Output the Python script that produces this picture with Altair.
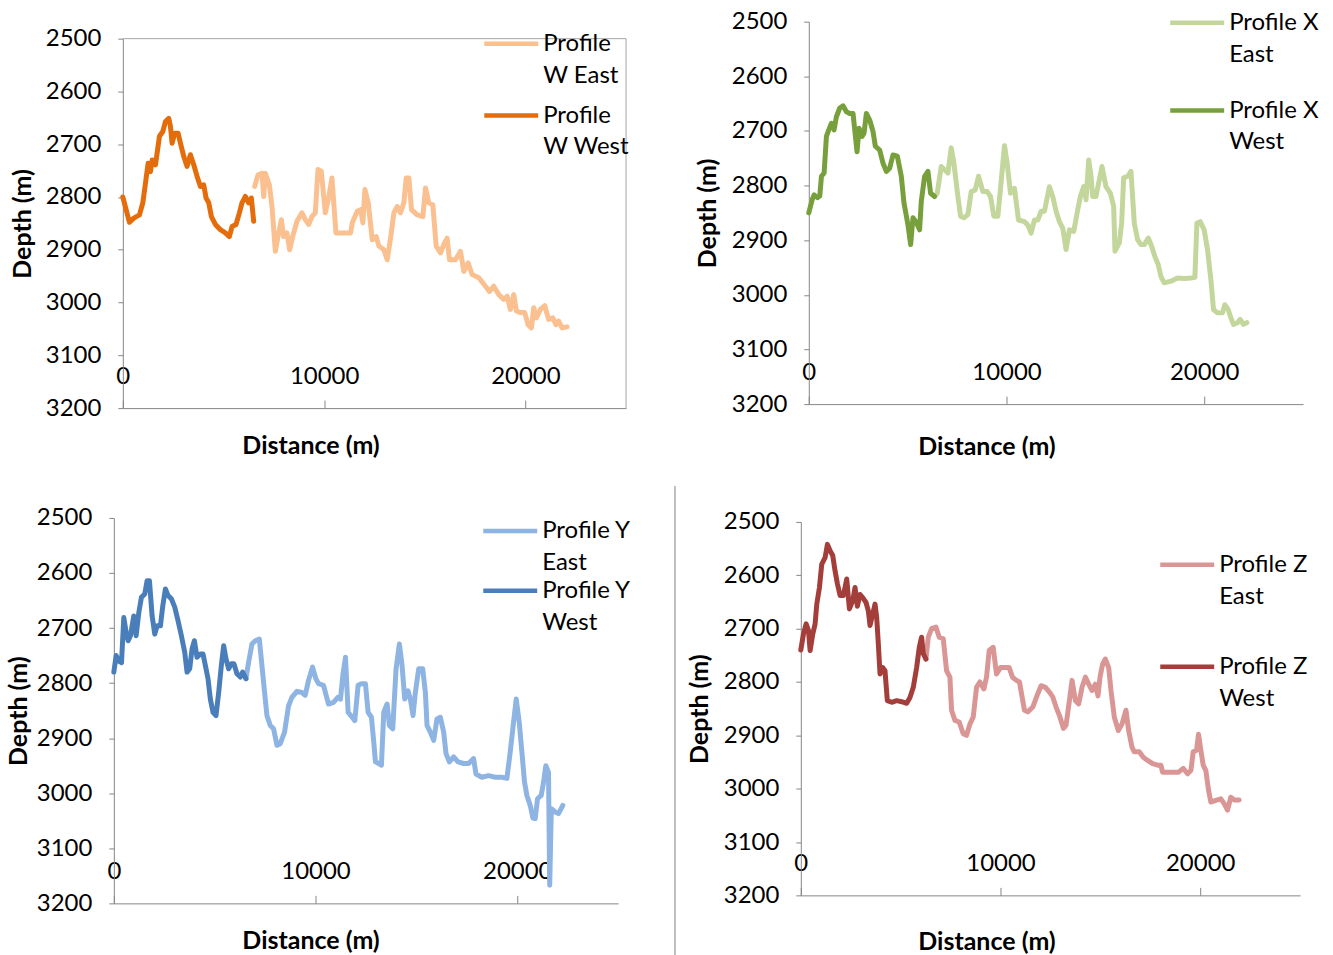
import altair as alt
import pandas as pd

FONT = "Lato"
GRAY = "#868686"

# ---------------- data (distance m, depth m) ----------------
W_WEST = [(0,2800),(165,2824),(330,2848),(545,2840),(827,2834),(993,2811),(1125,2774),(1257,2736),(1373,2752),(1456,2730),(1622,2739),(1820,2685),(1985,2676),(2117,2657),(2283,2651),(2365,2666),(2448,2698),(2580,2679),(2746,2679),(2862,2698),(3027,2723),(3193,2742),(3358,2720),(3524,2739),(3690,2761),(3855,2780),(4020,2777),(4136,2802),(4268,2811),(4400,2837),(4599,2852),(4847,2862),(5095,2868),(5293,2875),(5426,2856),(5624,2852),(5790,2830),(5921,2811),(6087,2799),(6253,2811),(6385,2802),(6501,2846)]
W_EAST = [(6551,2780),(6716,2758),(6914,2755),(6998,2799),(7080,2755),(7279,2777),(7411,2818),(7577,2903),(7708,2875),(7876,2843),(7990,2875),(8155,2868),(8288,2900),(8437,2875),(8652,2846),(8900,2830),(9066,2843),(9231,2852),(9396,2837),(9563,2830),(9694,2748),(9860,2751),(10058,2830),(10223,2802),(10389,2764),(10588,2868),(10886,2868),(11216,2868),(11315,2868),(11398,2849),(11647,2827),(11811,2824),(11927,2849),(12027,2786),(12192,2811),(12390,2881),(12589,2875),(12721,2893),(12969,2900),(13135,2919),(13300,2878),(13466,2830),(13632,2818),(13797,2830),(13962,2811),(14079,2764),(14210,2764),(14342,2824),(14624,2834),(14906,2837),(15037,2783),(15203,2811),(15401,2815),(15567,2893),(15782,2906),(15947,2890),(16113,2878),(16228,2919),(16526,2919),(16774,2903),(16940,2941),(17155,2925),(17355,2947),(17684,2953),(18015,2969),(18213,2979),(18428,2969),(18677,2985),(18925,2994),(19090,2988),(19255,3013),(19421,2985),(19553,3016),(19752,3019),(19966,3019),(20133,3042),(20298,3048),(20414,3010),(20546,3029),(20744,3013),(20959,3006),(21157,3032),(21356,3029),(21522,3042),(21653,3035),(21819,3048),(22068,3046)]

X_WEST = [(0,2850),(168,2826),(269,2817),(438,2822),(556,2819),(640,2783),(775,2777),(892,2710),(1010,2698),(1145,2686),(1279,2698),(1397,2674),(1566,2658),(1734,2654),(1902,2665),(2071,2668),(2239,2668),(2323,2698),(2441,2738),(2542,2695),(2694,2710),(2795,2704),(2912,2668),(3081,2680),(3249,2701),(3367,2728),(3586,2735),(3754,2759),(3923,2774),(4091,2768),(4259,2744),(4478,2746),(4680,2783),(4815,2832),(5016,2872),(5152,2908),(5270,2859),(5438,2867),(5606,2881),(5690,2829),(5859,2783),(6027,2774),(6162,2814),(6364,2820)]
X_EAST = [(6364,2820),(6498,2814),(6700,2765),(6869,2771),(7037,2777),(7205,2731),(7340,2759),(7542,2820),(7677,2856),(7845,2859),(8047,2853),(8215,2811),(8418,2808),(8586,2783),(8805,2811),(9024,2811),(9192,2820),(9360,2856),(9562,2856),(9731,2792),(9899,2727),(10033,2759),(10202,2814),(10404,2805),(10606,2863),(10909,2866),(11077,2872),(11246,2887),(11414,2863),(11582,2863),(11751,2847),(11919,2847),(12172,2802),(12340,2820),(12508,2847),(12677,2866),(12845,2878),(13013,2917),(13182,2881),(13401,2884),(13603,2844),(13737,2820),(13906,2802),(14024,2826),(14158,2753),(14276,2783),(14360,2820),(14529,2820),(14697,2789),(14832,2765),(15034,2802),(15253,2814),(15421,2838),(15488,2920),(15707,2905),(15825,2869),(15926,2786),(16128,2783),(16296,2774),(16465,2869),(16633,2899),(16801,2908),(16970,2908),(17172,2896),(17340,2911),(17508,2930),(17677,2945),(17811,2966),(17980,2978),(18316,2975),(18653,2969),(18990,2970),(19327,2969),(19529,2968),(19630,2869),(19798,2866),(20000,2881),(20168,2917),(20337,2972),(20472,3027),(20673,3033),(20926,3033),(21044,3018),(21212,3027),(21347,3042),(21481,3054),(21684,3051),(21818,3045),(21987,3054),(22155,3051)]

Y_WEST = [(0,2780),(115,2750),(248,2760),(380,2763),(495,2681),(611,2708),(710,2723),(825,2714),(990,2678),(1106,2714),(1238,2672),(1370,2644),(1535,2638),(1650,2614),(1766,2614),(1898,2678),(2030,2711),(2145,2696),(2310,2696),(2426,2660),(2558,2629),(2690,2641),(2855,2647),(3020,2662),(3185,2687),(3350,2714),(3515,2744),(3630,2780),(3762,2774),(3878,2738),(3993,2723),(4125,2753),(4290,2747),(4422,2747),(4538,2768),(4670,2792),(4785,2829),(4917,2853),(5066,2859),(5198,2817),(5330,2768),(5446,2732),(5561,2756),(5693,2774),(5825,2765),(5957,2765),(6106,2783),(6272,2789),(6386,2780),(6551,2792)]
Y_EAST = [(6551,2792),(6683,2762),(6848,2729),(7015,2723),(7213,2720),(7343,2768),(7475,2817),(7591,2859),(7757,2877),(7921,2883),(8086,2913),(8251,2910),(8465,2889),(8663,2841),(8828,2826),(9076,2815),(9323,2817),(9488,2822),(9653,2795),(9851,2771),(10017,2792),(10149,2801),(10396,2804),(10644,2838),(10891,2835),(11106,2826),(11238,2829),(11353,2786),(11485,2753),(11617,2853),(11815,2862),(11947,2868),(12112,2804),(12277,2801),(12475,2801),(12607,2853),(12772,2862),(12887,2907),(12970,2943),(13135,2946),(13267,2949),(13383,2853),(13548,2838),(13663,2877),(13828,2883),(13993,2774),(14158,2729),(14290,2768),(14422,2829),(14587,2814),(14703,2829),(14835,2859),(14950,2817),(15116,2774),(15314,2774),(15446,2817),(15529,2877),(15693,2889),(15858,2904),(16023,2865),(16188,2862),(16353,2889),(16469,2928),(16634,2943),(16848,2934),(17063,2943),(17342,2946),(17589,2946),(17837,2937),(17953,2965),(18250,2971),(18580,2968),(18911,2971),(19241,2971),(19488,2973),(19653,2925),(19818,2871),(19950,2829),(20099,2871),(20231,2925),(20363,2980),(20479,3004),(20644,3022),(20776,3045),(20891,3046),(21007,3010),(21188,3004),(21304,2980),(21419,2950),(21551,2962),(21610,3167),(21690,3028),(21881,3034),(22046,3037),(22261,3022)]

Z_WEST = [(0,2740),(133,2710),(267,2691),(383,2703),(467,2741),(600,2710),(717,2691),(800,2654),(933,2623),(1050,2579),(1217,2567),(1333,2542),(1467,2554),(1600,2563),(1717,2592),(1833,2616),(1967,2638),(2133,2638),(2300,2607),(2433,2663),(2600,2648),(2717,2623),(2833,2658),(2967,2636),(3100,2642),(3267,2651),(3383,2667),(3467,2694),(3600,2673),(3717,2654),(3800,2679),(3883,2729),(3967,2785),(4100,2773),(4217,2779),(4333,2835),(4550,2838),(4800,2835),(5050,2837),(5300,2840),(5467,2829),(5633,2810),(5800,2773),(5933,2735),(6050,2716),(6133,2747),(6267,2757)]
Z_EAST = [(6267,2757),(6383,2716),(6550,2700),(6767,2697),(6933,2716),(7133,2719),(7300,2779),(7467,2791),(7550,2853),(7717,2872),(7933,2875),(8133,2897),(8300,2900),(8467,2879),(8633,2866),(8800,2810),(8967,2800),(9167,2813),(9300,2791),(9433,2741),(9633,2735),(9800,2785),(10000,2773),(10217,2773),(10433,2773),(10600,2791),(10800,2797),(10950,2800),(11200,2853),(11367,2856),(11617,2847),(11867,2822),(12033,2807),(12250,2810),(12450,2819),(12617,2828),(12783,2847),(12983,2866),(13150,2887),(13283,2881),(13450,2835),(13583,2797),(13750,2835),(13917,2841),(14083,2810),(14250,2791),(14417,2804),(14583,2816),(14750,2804),(14883,2826),(14983,2791),(15117,2766),(15250,2757),(15417,2773),(15533,2816),(15700,2866),(15900,2891),(16083,2879),(16283,2853),(16417,2891),(16583,2922),(16700,2931),(16950,2931),(17150,2941),(17367,2947),(17617,2953),(17867,2956),(18033,2956),(18117,2969),(18367,2969),(18617,2969),(18917,2969),(19150,2962),(19367,2972),(19533,2966),(19650,2931),(19817,2928),(19917,2898),(20033,2928),(20150,2956),(20283,2966),(20417,3003),(20533,3025),(20783,3022),(21033,3019),(21200,3028),(21367,3040),(21533,3016),(21700,3021),(21950,3021)]

X_TICKS = [0, 10000, 20000]
Y_TICKS = [2500, 2600, 2700, 2800, 2900, 3000, 3100, 3200]


def make_df(east, west, east_label, west_label):
    rows = []
    for i, (d, z) in enumerate(east):
        rows.append({"dist": d, "depth": z, "series": east_label, "idx": i})
    for i, (d, z) in enumerate(west):
        rows.append({"dist": d, "depth": z, "series": west_label, "idx": i})
    return pd.DataFrame(rows)


def panel(east, west, labels, colors, xr, yr, tx, ty, yx, legx, legy, rowpad,
          width, height, frame=False, divider=False):
    df = make_df(east, west, labels[0], labels[1])
    xs = alt.Scale(domain=[0, 25000], range=xr, nice=False, zero=False)
    ys = alt.Scale(domain=[2500, 3200], range=yr, nice=False, zero=False)
    xaxis = alt.Axis(orient="top", offset=-yr[1], values=X_TICKS, format="d", grid=False,
                     domainColor=GRAY, tickColor=GRAY, tickSize=8,
                     labelFont=FONT, labelFontSize=24, labelColor="#000000",
                     labelPadding=24, labelBaseline="middle", labelFlush=False,
                     labelOverlap=False, title="Distance (m)", titleFont=FONT,
                     titleFontSize=25, titleFontWeight="bold", titleColor="#000000",
                     titleX=tx, titleY=ty, titleBaseline="middle", titleAlign="center")
    yaxis = alt.Axis(orient="left", offset=-xr[0], values=Y_TICKS, format="d", grid=False,
                     domainColor=GRAY, tickColor=GRAY, tickSize=5,
                     labelFont=FONT, labelFontSize=24, labelColor="#000000",
                     labelPadding=17, labelBaseline="middle", labelFlush=False,
                     labelOverlap=False, title="Depth (m)", titleFont=FONT,
                     titleFontSize=25, titleFontWeight="bold", titleColor="#000000",
                     titleX=yx, titleBaseline="middle", titleAlign="center", titleAngle=270)
    # horizontal line symbol twice as long as the nominal symbol box (54 px)
    legend = alt.Legend(title=None, orient="none", legendX=legx, legendY=legy,
                        symbolType="M-2,0H2", symbolStrokeWidth=4.5, symbolSize=729,
                        labelFont=FONT, labelFontSize=24, labelColor="#000000",
                        labelExpr="split(datum.label, '|')", labelBaseline="middle",
                        labelOffset=16, labelLimit=400, rowPadding=rowpad, padding=0)
    lines = alt.Chart(df).mark_line(strokeWidth=5, strokeJoin="round", strokeCap="round").encode(
        x=alt.X("dist:Q", scale=xs, axis=xaxis),
        y=alt.Y("depth:Q", scale=ys, axis=yaxis),
        color=alt.Color("series:N", scale=alt.Scale(domain=labels, range=colors), legend=legend),
        order="idx:Q",
    )
    layers = [lines]
    if frame:
        fdf = pd.DataFrame({"dist": [0, 25000], "dist2": [25000, 25000],
                            "depth": [2500, 2500], "depth2": [2500, 3200]})
        fr = alt.Chart(fdf).mark_rule(color="#A6A6A6", strokeWidth=1).encode(
            x=alt.X("dist:Q", scale=xs, axis=xaxis), x2="dist2:Q",
            y=alt.Y("depth:Q", scale=ys, axis=yaxis), y2="depth2:Q")
        layers.insert(0, fr)
    if divider:
        dv = alt.Chart(pd.DataFrame({"a": [0]})).mark_rule(color="#7F7F7F", strokeWidth=1).encode(
            x=alt.value(9), y=alt.value(8), y2=alt.value(height))
        layers.append(dv)
    return alt.layer(*layers).properties(width=width, height=height)


# legend: first-line centre ~16 px below legendY
pW = panel(W_EAST, W_WEST, ["Profile|W East", "Profile|W West"], ["#FAC090", "#E46C0A"],
           [122, 626], [37, 407], 310, 37, -100, 495, 26, 12, 666, 477, frame=True)
pX = panel(X_EAST, X_WEST, ["Profile X|East", "Profile X|West"], ["#C3D69B", "#77A03C"],
           [143, 638], [20, 403], 321, 42, -101, 516, 5, 28, 667, 477)
pY = panel(Y_EAST, Y_WEST, ["Profile Y|East", "Profile Y|West"], ["#8DB4E2", "#4A7EBB"],
           [113, 618], [40, 426], 310, 37, -95, 494, 37, 0, 666, 478)
pZ = panel(Z_EAST, Z_WEST, ["Profile Z|East", "Profile Z|West"], ["#D99694", "#A33E3A"],
           [135, 635], [44, 418], 321, 46, -101, 506, 71, 42, 667, 478, divider=True)

chart = alt.concat(pW, pX, pY, pZ, columns=2, spacing=0, bounds="flush").resolve_scale(
    x="independent", y="independent", color="independent").properties(
    padding=0, background="white")
chart = chart.configure(view={"stroke": "transparent"},
                        style={"guide-label": {"lineHeight": 32}})

chart.save("out.html", embed_options={"renderer": "svg", "actions": False})
